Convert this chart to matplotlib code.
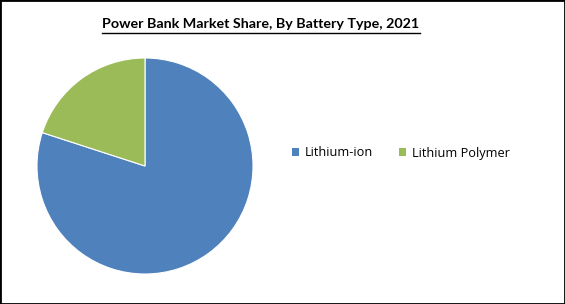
import matplotlib
matplotlib.use("Agg")
import matplotlib.pyplot as plt
from matplotlib.patches import Rectangle
from matplotlib.lines import Line2D

categories = ["Lithium-ion", "Lithium Polymer"]
shares = [80, 20]
colors = ["#4F81BD", "#9BBB59"]
title = "Power Bank Market Share, By Battery Type, 2021"

W, H = 565, 304
fig = plt.figure(figsize=(W / 100, H / 100), dpi=100)
fig.patch.set_facecolor("white")

# pie axes: center (145,166), radius 108 px
cx, cy, r = 145, 166, 108
ax = fig.add_axes([(cx - r) / W, 1 - (cy + r) / H, 2 * r / W, 2 * r / H])
ax.pie(shares, colors=colors, startangle=90, counterclock=False,
       wedgeprops=dict(edgecolor="white", linewidth=0.8), radius=1)
ax.set_xlim(-1, 1)
ax.set_ylim(-1, 1)
ax.set_aspect("equal")
ax.axis("off")

# title with underline
t = fig.text(261 / W, 1 - 24 / H, title, ha="center", va="center",
             fontsize=10.3, fontweight="bold", family=["Lato", "DejaVu Sans"])
fig.canvas.draw()
bb = t.get_window_extent()
fig.add_artist(Line2D([bb.x0 / W, bb.x1 / W], [1 - 32.5 / H, 1 - 32.5 / H],
                      color="black", linewidth=1.0, transform=fig.transFigure))

# legend
handles = [Rectangle((0, 0), 1, 1, facecolor=c, edgecolor="none") for c in colors]
leg = fig.legend(handles, categories, loc="center left",
                 bbox_to_anchor=(282 / W, 1 - 153 / H), ncol=2, frameon=False,
                 handlelength=0.55, handleheight=0.55, handletextpad=0.45,
                 columnspacing=2.0, borderpad=0.3,
                 prop=dict(family=["Open Sans", "DejaVu Sans"], size=9.2))

# figure border
fig.add_artist(Rectangle((0, 0), 1, 1, transform=fig.transFigure, fill=False,
                         edgecolor="black", linewidth=2))

fig.savefig("out.png", dpi=100)
